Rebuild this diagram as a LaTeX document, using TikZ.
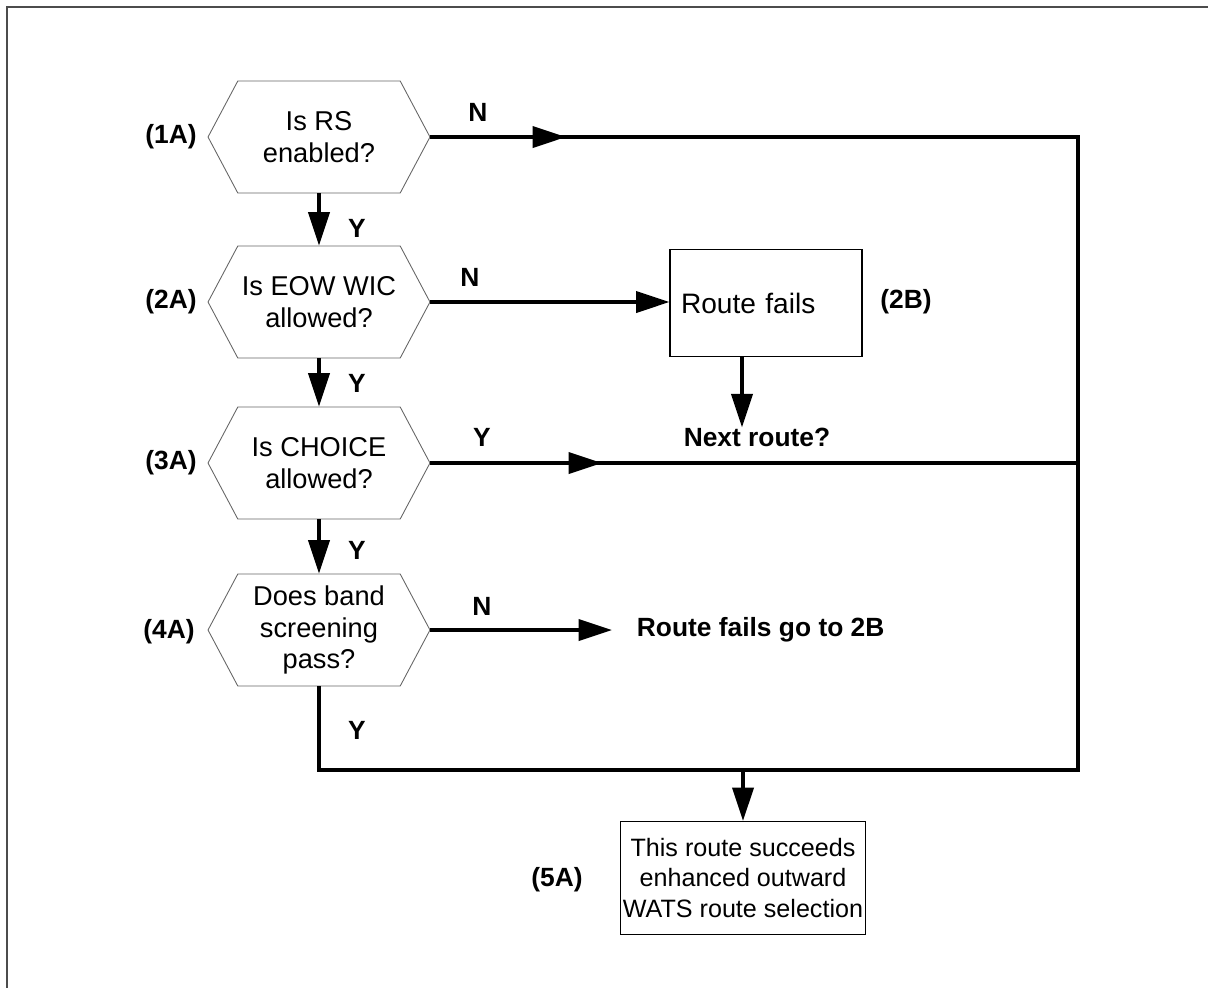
\documentclass[tikz,border=0pt]{standalone}
\usepackage{fontspec}
\setmainfont{Liberation Sans}
\usetikzlibrary{positioning,shapes.symbols,arrows.meta}

\begin{document}
\begin{tikzpicture}[x=0.02cm, y=-0.02cm,
    decision/.style={draw=black!60, line width=0.5pt, signal, signal to=west and east,
      signal pointer angle=124, minimum width=4.44cm, minimum height=2.24cm,
      inner sep=0pt, align=center, font=\fontsize{15.5}{17.8}\selectfont},
    stepbox/.style={draw, line width=0.6pt, font=\fontsize{14.3}{17.3}\selectfont},
    tag/.style={font=\bfseries\fontsize{15}{17.5}\selectfont, inner sep=0pt},
    wire/.style={line width=2pt},
    flow/.style={wire, -{Triangle[length=19pt, width=12pt]}}]
  \useasboundingbox (0,0) rectangle (1208,988);
  \draw[black!70, line width=0.8pt] (7,988) -- (7,7) -- (1208,7);

  % decisions
  \node[decision] (h1) at (319,137) {Is RS\\enabled?};
  \node[decision] (h2) at (319,302) {Is EOW WIC\\allowed?};
  \node[decision] (h3) at (319,463) {Is CHOICE\\allowed?};
  \node[decision] (h4) at (319,630) {Does band\\screening\\pass?};
  \node[tag, anchor=east] (l1) at (197,137) {(1A)};
  \node[tag, anchor=east] (l2) at (197,302) {(2A)};
  \node[tag, anchor=east] (l3) at (197,463) {(3A)};
  \node[tag, anchor=east] (l4) at (195,632) {(4A)};

  % results
  \node[stepbox, font=\fontsize{16}{19}\selectfont, align=left, text width=3.4cm,
    inner xsep=0.22cm, minimum height=2.14cm] (rf) at (766,303) {Route fails};
  \node[tag, anchor=west] (l2b) at (880,302) {(2B)};
  \node[tag] (nr) at (757,437) {Next route?};
  \node[tag, anchor=west, inner xsep=14pt] (fg) at (612,630) {Route fails go to 2B};
  \node[stepbox, align=center, inner xsep=1.5pt, minimum width=4.8cm, minimum height=2.26cm] (ok) at (743,878)
    {This route succeeds\\enhanced outward\\WATS route selection};
  \node[tag, anchor=east] (l5) at (583,880) {(5A)};

  \coordinate (rt) at (1078,137);
  \coordinate (rb) at (1078,770);
  \coordinate (m1) at (566,137);
  \coordinate (m3) at (602,463);
  \coordinate (rfo) at ([xshift=-0.48cm]rf.south);

  % connectors
  \draw[wire] (h1.east) -- (rt) -- (rb) -| (h4.south);
  \draw[flow] (h1.east) -- (m1);
  \draw[wire] (h3.east) -- (h3.east -| rt);
  \draw[flow] (h3.east) -- (m3);
  \draw[flow] (h1.south) -- (h2.north);
  \draw[flow] (h2.south) -- (h3.north);
  \draw[flow] (h3.south) -- (h4.north);
  \draw[flow] (h2.east) -- (h2.east -| rf.west);
  \draw[flow] (rfo) -- (rfo |- nr.north);
  \draw[flow] (h4.east) -- (fg.west);
  \draw[flow] (ok.north |- rb) -- (ok.north);

  \node[tag] at (478,112) {N};
  \node[tag] at (357,228) {Y};
  \node[tag] at (470,277) {N};
  \node[tag] at (357,383) {Y};
  \node[tag] at (482,437) {Y};
  \node[tag] at (357,550) {Y};
  \node[tag] at (482,606) {N};
  \node[tag] at (357,730) {Y};
\end{tikzpicture}
\end{document}
